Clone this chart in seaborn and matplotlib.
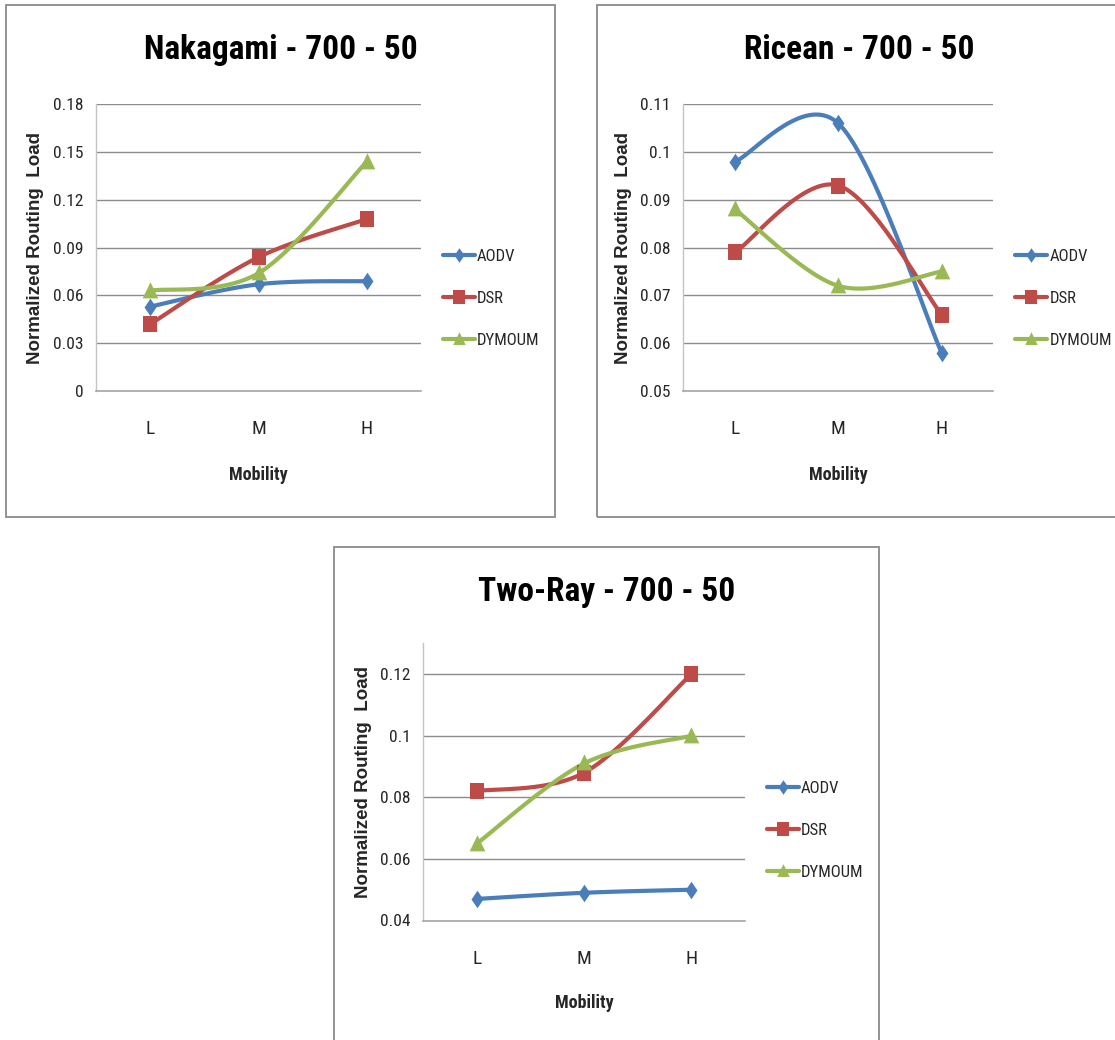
import numpy as np
import pandas as pd
import matplotlib
matplotlib.use("Agg")
import matplotlib.pyplot as plt
import matplotlib.transforms as mtransforms
from matplotlib import font_manager as fm
from matplotlib.lines import Line2D
from matplotlib.patches import Rectangle
import seaborn as sns

# ---------------- data ----------------
mobility = ["L", "M", "H"]
protocols = ["AODV", "DSR", "DYMOUM"]

nakagami_aodv = [0.053, 0.067, 0.069]
nakagami_dsr = [0.042, 0.084, 0.108]
nakagami_dymoum = [0.063, 0.074, 0.144]

ricean_aodv = [0.098, 0.106, 0.058]
ricean_dsr = [0.079, 0.093, 0.066]
ricean_dymoum = [0.088, 0.072, 0.075]

tworay_aodv = [0.047, 0.049, 0.050]
tworay_dsr = [0.082, 0.088, 0.120]
tworay_dymoum = [0.065, 0.091, 0.100]

titles = ["Nakagami - 700 - 50", "Ricean - 700 - 50", "Two-Ray - 700 - 50"]
yticks_nakagami = [0, 0.03, 0.06, 0.09, 0.12, 0.15, 0.18]
yticks_ricean = [0.05, 0.06, 0.07, 0.08, 0.09, 0.1, 0.11]
yticks_tworay = [0.04, 0.06, 0.08, 0.1, 0.12]
ylims = [(0, 0.18), (0.05, 0.11), (0.04, 0.13)]
x_label = "Mobility"
y_label = "Normalized Routing  Load"

# ---------------- style ----------------
sns.set_style("white")
plt.rcParams["font.family"] = ["Liberation Sans", "DejaVu Sans"]


def find_condensed(bold):
    best = None
    for f in fm.fontManager.ttflist:
        name = (f.name + " " + f.fname).lower()
        cond = ("narrow" in name or "condensed" in name or
                str(f.stretch) in ("condensed", "semi-condensed", "extra-condensed"))
        if not cond or "italic" in name or "oblique" in f.style:
            continue
        w = f.weight if isinstance(f.weight, int) else (700 if "bold" in str(f.weight) else 400)
        if bold and w < 600:
            continue
        if not bold and w >= 600:
            continue
        if any(s in name for s in ("semi", "extra", "light", "black", "medium", "thin")):
            continue
        score = 0
        if "liberation" in name:
            score = 5
        elif "roboto" in name:
            score = 4
        elif "open" in name:
            score = 3
        elif "noto" in name:
            score = 2
        elif "dejavu" in name:
            score = 1
        if best is None or score > best[0]:
            best = (score, f.fname)
    return best[1] if best else None


REG_FILE = find_condensed(False)
BOLD_FILE = find_condensed(True)


def fp(size, bold=False):
    path = BOLD_FILE if bold else REG_FILE
    if path:
        return fm.FontProperties(fname=path, size=size)
    return fm.FontProperties(family=["Liberation Sans", "DejaVu Sans"], size=size * 0.9,
                             weight="bold" if bold else "normal")


colors = {"AODV": "#4A7EBB", "DSR": "#BE4B48", "DYMOUM": "#98B954"}
marker_shapes = {
    "AODV": [(0, 1), (0.68, 0), (0, -1), (-0.68, 0)],
    "DSR": [(-0.85, -1), (0.85, -1), (0.85, 1), (-0.85, 1)],
    "DYMOUM": [(0, 1), (0.85, -0.75), (-0.85, -0.75)],
}
marker_sizes = {"AODV": 160, "DSR": 130, "DYMOUM": 175}
GRID = "#8C8C8C"
AXIS = "#A6A6A6"
BOX = "#8A8A8A"

W, H, DPI = 1115, 1040, 100
fig = plt.figure(figsize=(W / DPI, H / DPI), dpi=DPI)
fig.patch.set_facecolor("white")


def px_axes(l, t, r, b):
    return [l / W, 1 - b / H, (r - l) / W, (b - t) / H]


def excel_smooth(values, n=60):
    """Excel-style smoothed curve (cubic Bezier, Catmull-Rom tangents)."""
    x = np.arange(len(values), dtype=float)
    y = np.asarray(values, dtype=float)
    P = np.column_stack([x, y])
    out = []
    for i in range(len(P) - 1):
        im, ip = max(i - 1, 0), min(i + 2, len(P) - 1)
        p0, p3 = P[i], P[i + 1]
        p1 = p0 + (P[i + 1] - P[im]) / 6.0
        p2 = p3 - (P[ip] - P[i]) / 6.0
        t = np.linspace(0, 1, n)[:, None]
        seg = ((1 - t) ** 3) * p0 + 3 * ((1 - t) ** 2) * t * p1 \
            + 3 * (1 - t) * (t ** 2) * p2 + (t ** 3) * p3
        out.append(seg if i == 0 else seg[1:])
    return np.vstack(out)


panels = [
    dict(series=[nakagami_aodv, nakagami_dsr, nakagami_dymoum], yticks=yticks_nakagami,
         rect=(96, 104.3, 421, 391), box=(6.4, 5, 554.6, 516.7), title_xy=(280.5, 50),
         mob_off=84),
    dict(series=[ricean_aodv, ricean_dsr, ricean_dymoum], yticks=yticks_ricean,
         rect=(683.3, 104.3, 993.3, 391), box=(596.7, 5, 1125, 516.7), title_xy=(858.8, 50),
         mob_off=84),
    dict(series=[tworay_aodv, tworay_dsr, tworay_dymoum], yticks=yticks_tworay,
         rect=(423.3, 643.3, 745, 920.5), box=(334.3, 546.7, 878.6, 1060), title_xy=(606.3, 591.7),
         mob_off=83),
]

LEG_FS = 12
for k, p in enumerate(panels):
    bl, bt, br, bb = p["box"]
    fig.add_artist(Rectangle((bl / W, 1 - bb / H), (br - bl) / W, (bb - bt) / H,
                             transform=fig.transFigure, fill=False, edgecolor=BOX,
                             linewidth=1.3, clip_on=False))
    fig.text(p["title_xy"][0] / W, 1 - p["title_xy"][1] / H, titles[k],
             ha="center", va="center", color="black", fontproperties=fp(24, True))

    ax = fig.add_axes(px_axes(*p["rect"]))
    ax.set_facecolor("white")

    rows, dense_rows = [], []
    for proto, vals in zip(protocols, p["series"]):
        for i, v in enumerate(vals):
            rows.append(dict(Mobility=mobility[i], pos=i, Protocol=proto, value=v))
        curve = excel_smooth(vals)
        for j, (cx, cy) in enumerate(curve):
            dense_rows.append(dict(order=j, x=cx, y=cy, Protocol=proto))
    df = pd.DataFrame(rows)
    dense = pd.DataFrame(dense_rows)

    sns.lineplot(data=dense, x="x", y="y", hue="Protocol", palette=colors,
                 hue_order=protocols, estimator=None, sort=False, linewidth=3.0,
                 legend=False, ax=ax, zorder=3, solid_capstyle="round")
    for proto in protocols:
        sub = df[df["Protocol"] == proto]
        sns.scatterplot(data=sub, x="pos", y="value", color=colors[proto],
                        marker=marker_shapes[proto], s=marker_sizes[proto],
                        linewidth=0, legend=False, ax=ax, zorder=4)

    ax.set_xlim(-0.5, 2.5)
    ax.set_ylim(*ylims[k])
    ax.set_yticks(p["yticks"])
    ax.set_yticklabels([f"{v:g}" for v in p["yticks"]])
    for lab in ax.get_yticklabels():
        lab.set_fontproperties(fp(12.5))
    ax.set_xticks([-0.5, 0.5, 1.5, 2.5])
    ax.set_xticklabels([])
    ax.set_xticks([0, 1, 2], minor=True)
    ax.set_xticklabels(mobility, minor=True)
    for lab in ax.get_xticklabels(minor=True):
        lab.set_fontproperties(fp(14))
    ax.tick_params(axis="x", which="major", length=7, width=1, color=AXIS, direction="out")
    ax.tick_params(axis="x", which="minor", length=0, pad=21)
    ax.tick_params(axis="y", length=4, width=1, color=AXIS, direction="out", pad=5)
    ax.set_xlabel("")
    ax.set_ylabel("")
    ax.grid(axis="y", color=GRID, linewidth=1)
    ax.grid(axis="x", visible=False)
    for s in ["top", "right"]:
        ax.spines[s].set_visible(False)
    ax.spines["left"].set_color("#C4C4C4")
    ax.spines["bottom"].set_color(AXIS)
    ax.spines["left"].set_linewidth(1)
    ax.spines["bottom"].set_linewidth(1.2)
    ax.set_axisbelow(True)

    ytr = ax.transAxes + mtransforms.ScaledTranslation(-0.60, 0, fig.dpi_scale_trans)
    ax.text(0, 0.5, y_label, transform=ytr, rotation=90, ha="center", va="center",
            fontsize=13.5, fontweight="bold", family=["Liberation Sans", "DejaVu Sans"])
    xtr = ax.transAxes + mtransforms.ScaledTranslation(0, -p["mob_off"] / 100, fig.dpi_scale_trans)
    ax.text(0.5, 0, x_label, transform=xtr, ha="center", va="center",
            fontproperties=fp(13, True))

    handles = [Line2D([0], [0], color=colors[pr], linewidth=3.0,
                      marker=marker_shapes[pr], markersize=10.5, markeredgewidth=0)
               for pr in protocols]
    fs_px = LEG_FS * DPI / 72.0
    ax.legend(handles, protocols, loc="center left", bbox_to_anchor=(1.0, 0.324),
              frameon=False, borderpad=0, borderaxespad=22 / fs_px, handlelength=32 / fs_px,
              handletextpad=0.12, labelspacing=1.62, prop=fp(LEG_FS))

fig.savefig("out.png", dpi=DPI, facecolor="white")
